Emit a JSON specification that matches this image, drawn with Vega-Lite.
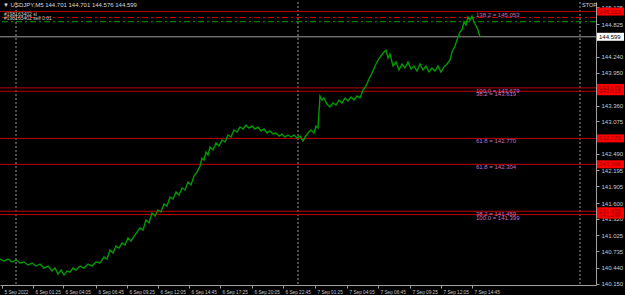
{
  "$schema": "https://vega.github.io/schema/vega-lite/v6.json",
  "width": 596,
  "height": 283,
  "autosize": "none",
  "padding": {"left": 0, "top": 2, "right": 29, "bottom": 10},
  "background": "#000000",
  "config": {"view": {"stroke": null}, "font": "Liberation Sans",
    "axis": {"labelOverlap": false, "labelFlush": false, "labelBound": false, "grid": false, "title": null, "tickCount": 100}},
  "datasets": {
    "price": [
      {"bar": 0, "price": 140.599}, {"bar": 4, "price": 140.563}, {"bar": 8, "price": 140.599}, {"bar": 12, "price": 140.545},
      {"bar": 16, "price": 140.581}, {"bar": 20, "price": 140.527}, {"bar": 24, "price": 140.545}, {"bar": 28, "price": 140.491},
      {"bar": 32, "price": 140.527}, {"bar": 36, "price": 140.473}, {"bar": 40, "price": 140.509}, {"bar": 44, "price": 140.437},
      {"bar": 48, "price": 140.473}, {"bar": 52, "price": 140.383}, {"bar": 55, "price": 140.437}, {"bar": 58, "price": 140.329},
      {"bar": 61, "price": 140.401}, {"bar": 64, "price": 140.311}, {"bar": 67, "price": 140.383}, {"bar": 70, "price": 140.365},
      {"bar": 73, "price": 140.437}, {"bar": 76, "price": 140.401}, {"bar": 80, "price": 140.473}, {"bar": 84, "price": 140.437},
      {"bar": 88, "price": 140.509}, {"bar": 92, "price": 140.473}, {"bar": 96, "price": 140.545}, {"bar": 100, "price": 140.527},
      {"bar": 104, "price": 140.635}, {"bar": 107, "price": 140.599}, {"bar": 110, "price": 140.761}, {"bar": 113, "price": 140.707},
      {"bar": 116, "price": 140.833}, {"bar": 119, "price": 140.797}, {"bar": 122, "price": 140.887}, {"bar": 125, "price": 140.851},
      {"bar": 128, "price": 140.977}, {"bar": 131, "price": 140.923}, {"bar": 134, "price": 141.013}, {"bar": 137, "price": 141.085},
      {"bar": 140, "price": 141.157}, {"bar": 143, "price": 141.121}, {"bar": 146, "price": 141.301}, {"bar": 149, "price": 141.247},
      {"bar": 152, "price": 141.427}, {"bar": 155, "price": 141.373}, {"bar": 158, "price": 141.481}, {"bar": 161, "price": 141.445},
      {"bar": 164, "price": 141.589}, {"bar": 167, "price": 141.553}, {"bar": 170, "price": 141.715}, {"bar": 173, "price": 141.679},
      {"bar": 176, "price": 141.805}, {"bar": 179, "price": 141.751}, {"bar": 182, "price": 141.877}, {"bar": 185, "price": 141.841},
      {"bar": 188, "price": 141.985}, {"bar": 191, "price": 141.931}, {"bar": 194, "price": 142.093}, {"bar": 197, "price": 142.165},
      {"bar": 200, "price": 142.273}, {"bar": 202, "price": 142.417}, {"bar": 204, "price": 142.381}, {"bar": 206, "price": 142.525},
      {"bar": 208, "price": 142.471}, {"bar": 210, "price": 142.615}, {"bar": 213, "price": 142.561}, {"bar": 216, "price": 142.687},
      {"bar": 219, "price": 142.633}, {"bar": 222, "price": 142.741}, {"bar": 225, "price": 142.705}, {"bar": 228, "price": 142.831},
      {"bar": 231, "price": 142.795}, {"bar": 234, "price": 142.921}, {"bar": 237, "price": 142.885}, {"bar": 240, "price": 142.975},
      {"bar": 243, "price": 142.939}, {"bar": 246, "price": 143.011}, {"bar": 249, "price": 142.957}, {"bar": 252, "price": 142.993},
      {"bar": 255, "price": 142.939}, {"bar": 258, "price": 142.975}, {"bar": 261, "price": 142.903}, {"bar": 264, "price": 142.939},
      {"bar": 267, "price": 142.867}, {"bar": 270, "price": 142.903}, {"bar": 273, "price": 142.849}, {"bar": 276, "price": 142.867},
      {"bar": 279, "price": 142.813}, {"bar": 282, "price": 142.849}, {"bar": 285, "price": 142.795}, {"bar": 288, "price": 142.831},
      {"bar": 291, "price": 142.795}, {"bar": 294, "price": 142.831}, {"bar": 297, "price": 142.777}, {"bar": 300, "price": 142.813},
      {"bar": 303, "price": 142.723}, {"bar": 305, "price": 142.795}, {"bar": 308, "price": 142.867}, {"bar": 311, "price": 142.921},
      {"bar": 314, "price": 142.867}, {"bar": 316, "price": 142.993}, {"bar": 318, "price": 142.957}, {"bar": 320, "price": 143.533},
      {"bar": 322, "price": 143.461}, {"bar": 324, "price": 143.497}, {"bar": 327, "price": 143.389}, {"bar": 330, "price": 143.335},
      {"bar": 333, "price": 143.407}, {"bar": 336, "price": 143.371}, {"bar": 339, "price": 143.461}, {"bar": 342, "price": 143.407},
      {"bar": 345, "price": 143.497}, {"bar": 348, "price": 143.443}, {"bar": 351, "price": 143.515}, {"bar": 354, "price": 143.461},
      {"bar": 357, "price": 143.533}, {"bar": 360, "price": 143.497}, {"bar": 363, "price": 143.641}, {"bar": 366, "price": 143.713},
      {"bar": 369, "price": 143.839}, {"bar": 372, "price": 143.947}, {"bar": 375, "price": 144.073}, {"bar": 378, "price": 144.181},
      {"bar": 381, "price": 144.253}, {"bar": 384, "price": 144.325}, {"bar": 386, "price": 144.361}, {"bar": 388, "price": 144.217},
      {"bar": 390, "price": 144.289}, {"bar": 393, "price": 144.073}, {"bar": 396, "price": 144.145}, {"bar": 399, "price": 144.001},
      {"bar": 402, "price": 144.109}, {"bar": 405, "price": 144.037}, {"bar": 408, "price": 144.145}, {"bar": 411, "price": 144.019},
      {"bar": 414, "price": 144.073}, {"bar": 417, "price": 143.983}, {"bar": 420, "price": 144.109}, {"bar": 423, "price": 144.001},
      {"bar": 426, "price": 144.073}, {"bar": 429, "price": 143.965}, {"bar": 432, "price": 144.037}, {"bar": 435, "price": 143.983},
      {"bar": 438, "price": 144.073}, {"bar": 441, "price": 143.965}, {"bar": 444, "price": 144.055}, {"bar": 447, "price": 144.109},
      {"bar": 450, "price": 144.181}, {"bar": 452, "price": 144.325}, {"bar": 455, "price": 144.433}, {"bar": 457, "price": 144.541},
      {"bar": 460, "price": 144.685}, {"bar": 462, "price": 144.721}, {"bar": 464, "price": 144.865}, {"bar": 466, "price": 144.811},
      {"bar": 468, "price": 144.955}, {"bar": 470, "price": 144.901}, {"bar": 472, "price": 144.973}, {"bar": 474, "price": 144.865},
      {"bar": 476, "price": 144.793}, {"bar": 478, "price": 144.721}, {"bar": 480, "price": 144.599}
    ],
    "levels": [
      {"price": 145.053, "type": "fib", "label": "138.2 = 145.053", "axis": "145.053"},
      {"price": 143.679, "type": "fib", "label": "100.0 = 143.679", "axis": "143.679"},
      {"price": 143.619, "type": "fib", "label": "38.2 = 143.619", "axis": "143.619"},
      {"price": 142.770, "type": "fib", "label": "61.8 = 142.770", "axis": "142.770"},
      {"price": 142.304, "type": "fib", "label": "61.8 = 142.304", "axis": "142.304"},
      {"price": 141.459, "type": "fib", "label": "38.2 = 141.459", "axis": "141.459"},
      {"price": 141.399, "type": "fib", "label": "100.0 = 141.399", "axis": "141.399"},
      {"price": 144.946, "type": "sl", "label": "#198163402 sl", "axis": ""},
      {"price": 144.870, "type": "entry", "label": "#198163402 sell 0.01", "axis": ""},
      {"price": 144.599, "type": "bid", "label": "", "axis": "144.599"}
    ],
    "seps": [{"bar": 16}, {"bar": 298}, {"bar": 580}]
  },
  "layer": [
    {
      "data": {"name": "seps"},
      "mark": {"type": "rule", "color": "#9a9a9a", "strokeDash": [2, 2], "strokeWidth": 1},
      "encoding": {
        "x": {"field": "bar", "type": "quantitative",
          "scale": {"domain": [0, 596], "nice": false, "zero": false},
          "axis": {
            "orient": "bottom", "tickCount": 100,
            "values": [2, 33, 63, 96, 127, 158, 189, 220, 252, 283, 315, 347, 378, 410, 441, 472],
            "labelExpr": "datum.value == 2 ? '5 Sep 2022' : datum.value == 33 ? '6 Sep 01:25' : datum.value == 63 ? '6 Sep 04:05' : datum.value == 96 ? '6 Sep 06:45' : datum.value == 127 ? '6 Sep 09:25' : datum.value == 158 ? '6 Sep 12:05' : datum.value == 189 ? '6 Sep 14:45' : datum.value == 220 ? '6 Sep 17:25' : datum.value == 252 ? '6 Sep 20:05' : datum.value == 283 ? '6 Sep 22:45' : datum.value == 315 ? '7 Sep 01:25' : datum.value == 347 ? '7 Sep 04:05' : datum.value == 378 ? '7 Sep 06:45' : datum.value == 410 ? '7 Sep 09:25' : datum.value == 441 ? '7 Sep 12:05' : '7 Sep 14:45'",
            "labelAlign": "left", "labelBaseline": "top", "labelColor": "#c8c8c8", "labelFontSize": 4.7,
            "labelPadding": 1.5, "labelOverlap": false,
            "tickColor": "#a0a0a0", "tickSize": 3, "domainColor": "#a0a0a0", "labelOffset": 2
          }
        }
      }
    },
    {
      "data": {"name": "levels"},
      "transform": [{"filter": "datum.type == 'fib'"}],
      "mark": {"type": "rule", "color": "#c00000", "strokeWidth": 1},
      "encoding": {
        "y": {"field": "price", "type": "quantitative",
          "scale": {"domain": [140.132, 145.225], "nice": false, "zero": false},
          "axis": {
            "orient": "right", "tickCount": 100,
            "values": [145.135, 144.825, 144.240, 143.950, 143.360, 143.075, 142.490, 142.195, 141.905, 141.600, 141.320, 141.025, 140.735, 140.440, 140.150],
            "format": ".3f", "labelColor": "#c8c8c8", "labelFontSize": 6, "labelPadding": 2,
            "tickColor": "#a0a0a0", "tickSize": 3, "domainColor": "#a0a0a0", "labelOverlap": false
          }
        }
      }
    },
    {
      "data": {"name": "levels"},
      "transform": [{"filter": "datum.type == 'sl'"}],
      "mark": {"type": "rule", "color": "#d00000", "strokeWidth": 1, "strokeDash": [6, 3, 2, 3]},
      "encoding": {"y": {"field": "price", "type": "quantitative"}}
    },
    {
      "data": {"name": "levels"},
      "transform": [{"filter": "datum.type == 'entry'"}],
      "mark": {"type": "rule", "color": "#00a000", "strokeWidth": 1, "strokeDash": [6, 3, 2, 3]},
      "encoding": {"y": {"field": "price", "type": "quantitative"}}
    },
    {
      "data": {"name": "levels"},
      "transform": [{"filter": "datum.type == 'bid'"}],
      "mark": {"type": "rule", "color": "#9a9a9a", "strokeWidth": 1},
      "encoding": {"y": {"field": "price", "type": "quantitative"}}
    },
    {
      "data": {"name": "price"},
      "mark": {"type": "line", "color": "#009a00", "strokeWidth": 1.4},
      "encoding": {
        "x": {"field": "bar", "type": "quantitative"},
        "y": {"field": "price", "type": "quantitative"}
      }
    },
    {
      "data": {"name": "levels"},
      "transform": [{"filter": "datum.type == 'fib'"}],
      "mark": {"type": "text", "color": "#c070c8", "fontSize": 6, "align": "left", "baseline": "middle", "dy": 3},
      "encoding": {
        "x": {"datum": 476},
        "y": {"field": "price", "type": "quantitative"},
        "text": {"field": "label"}
      }
    },
    {
      "data": {"name": "levels"},
      "transform": [{"filter": "datum.type == 'sl' || datum.type == 'entry'"}],
      "mark": {"type": "text", "color": "#c8c8c8", "fontSize": 5, "align": "left", "baseline": "bottom", "dy": -0.5},
      "encoding": {
        "x": {"datum": 4},
        "y": {"field": "price", "type": "quantitative"},
        "text": {"field": "label"}
      }
    },
    {
      "data": {"name": "levels"},
      "transform": [{"filter": "datum.type == 'fib'"}],
      "mark": {"type": "tick", "orient": "horizontal", "color": "#ff0000", "size": 27, "thickness": 8, "opacity": 1},
      "encoding": {
        "x": {"datum": 610.5},
        "y": {"field": "price", "type": "quantitative"}
      }
    },
    {
      "data": {"name": "levels"},
      "transform": [{"filter": "datum.type == 'bid'"}],
      "mark": {"type": "tick", "orient": "horizontal", "color": "#ffffff", "size": 27, "thickness": 8, "opacity": 1},
      "encoding": {
        "x": {"datum": 610.5},
        "y": {"field": "price", "type": "quantitative"}
      }
    },
    {
      "data": {"name": "levels"},
      "transform": [{"filter": "datum.type == 'fib'"}],
      "mark": {"type": "text", "color": "#900000", "fontSize": 6, "align": "left", "baseline": "middle"},
      "encoding": {
        "x": {"datum": 599},
        "y": {"field": "price", "type": "quantitative"},
        "text": {"field": "axis"}
      }
    },
    {
      "data": {"name": "levels"},
      "transform": [{"filter": "datum.type == 'bid'"}],
      "mark": {"type": "text", "color": "#000000", "fontSize": 6, "align": "left", "baseline": "middle"},
      "encoding": {
        "x": {"datum": 599},
        "y": {"field": "price", "type": "quantitative"},
        "text": {"field": "axis"}
      }
    },
    {
      "data": {"values": [{"t": "▼  USDJPY,M5  144.701 144.701 144.576 144.599"}]},
      "mark": {"type": "text", "color": "#d8d8d8", "fontSize": 6, "align": "left", "baseline": "middle"},
      "encoding": {
        "x": {"datum": 3},
        "y": {"datum": 145.18},
        "text": {"field": "t"}
      }
    },
    {
      "data": {"values": [{"t": "STOP"}]},
      "mark": {"type": "text", "color": "#d8d8d8", "fontSize": 5.5, "align": "left", "baseline": "middle"},
      "encoding": {
        "x": {"datum": 582},
        "y": {"datum": 145.18},
        "text": {"field": "t"}
      }
    }
  ]
}
